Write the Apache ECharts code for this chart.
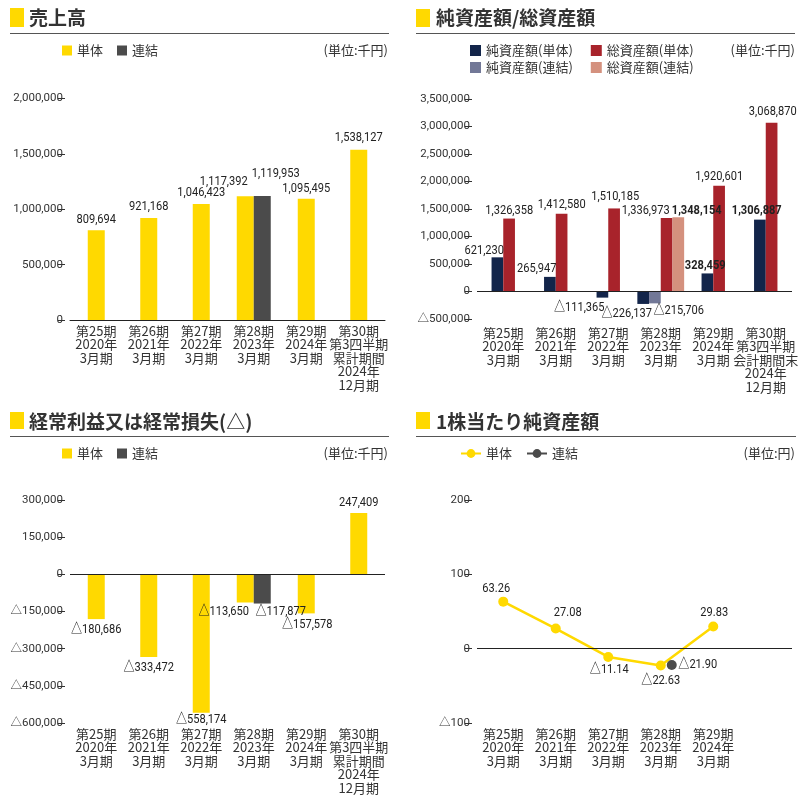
<!DOCTYPE html>
<html><head><meta charset="utf-8">
<script src="https://cdn.jsdelivr.net/npm/echarts@6/dist/echarts.min.js"></script>
<style>
html,body{margin:0;padding:0;background:#fff;}
.p{position:absolute;height:400px;}
</style>
</head><body>
<div id="c1" class="p" style="left:0;top:0;width:400px"></div>
<div id="c2" class="p" style="left:400px;top:0;width:407px"></div>
<div id="c3" class="p" style="left:0;top:400px;width:400px"></div>
<div id="c4" class="p" style="left:400px;top:400px;width:407px"></div>
<script>
// ---------- data ----------
const catsSales = ['第25期\n2020年\n3月期','第26期\n2021年\n3月期','第27期\n2022年\n3月期','第28期\n2023年\n3月期','第29期\n2024年\n3月期','第30期\n第3四半期\n累計期間\n2024年\n12月期'];
const catsAssets = ['第25期\n2020年\n3月期','第26期\n2021年\n3月期','第27期\n2022年\n3月期','第28期\n2023年\n3月期','第29期\n2024年\n3月期','第30期\n第3四半期\n会計期間末\n2024年\n12月期'];
const catsBps = ['第25期\n2020年\n3月期','第26期\n2021年\n3月期','第27期\n2022年\n3月期','第28期\n2023年\n3月期','第29期\n2024年\n3月期',''];

const salesSingle = [809694, 921168, 1046423, 1117392, 1095495, 1538127];
const salesConsol = [null, null, null, 1119953, null, null];

const netAssetsSingle = [621230, 265947, -111365, -226137, 328459, 1306887];
const totalAssetsSingle = [1326358, 1412580, 1510185, 1336973, 1920601, 3068870];
const netAssetsConsol = [null, null, null, -215706, null, null];
const totalAssetsConsol = [null, null, null, 1348154, null, null];

const ordinarySingle = [-180686, -333472, -558174, -113650, -157578, 247409];
const ordinaryConsol = [null, null, null, -117877, null, null];

const bpsSingle = [63.26, 27.08, -11.14, -22.63, 29.83];
const bpsConsol = [null, null, null, -21.90, null];

// ---------- value-label placement: [dx, dy] from (category centre, value) ----------
const offSalesS = [[0,-11],[0,-11],[0,-11],[-30,-15],[0,-10],[0,-12]];
const offSalesC = [null,null,null,[22,-22],null,null];
const offNetS = [[-19,-7],[-19,-8],[-29,9.5],[-34,10],[-8,-8],[-9,-8.5]];
const offTotS = [[6,-7.5],[6,-9],[7,-12],[-15,-7],[6,-9],[7,-11]];
const offNetC = [null,null,null,[18,7],null,null];
const offTotC = [null,null,null,[36,-6.5],null,null];
const boldNetS = [false,false,false,false,true,true];
const boldTotC = [false,false,false,true,false,false];
const offOrdS = [[0,11],[0,11],[0,6.5],[-30,9.5],[1,11.5],[0,-10]];
const offOrdC = [null,null,null,[27,8.5],null,null];
const offBpsS = [[-7,-13.5],[12,-15.5],[1,13],[0,15.5],[1,-13.5]];
const offBpsC = [null,null,null,[37,0],null];

// ---------- styles ----------
const FONT_JP = '"Noto Sans CJK JP", sans-serif';
const FONT_NUM = 'Roboto, "Liberation Sans", "Noto Sans CJK JP", sans-serif';
const YELLOW = '#FFD900', DARK = '#4B4B4B', NAVY = '#13254A', RED = '#A8232B', GRAYBLUE = '#727897', SALMON = '#D4917E';
const TXT = '#333';

function fmtInt(v){ const s = Math.abs(v).toLocaleString('en-US'); return v < 0 ? '△' + s : s; }
function fmtDec(v){ const s = Math.abs(v).toFixed(2); return v < 0 ? '△' + s : s; }
function pick(vals, mask, want){ return vals.map((v, i) => (mask[i] === want && v !== null) ? v : '-'); }

// value labels drawn as condensed text through the axes' own coordinate system
function labelEntries(vals, offs, fmt, bolds){
  const out = [];
  vals.forEach((v, i) => { if (v !== null) out.push({i: i, v: v, text: fmt(v), off: offs[i], bold: bolds ? bolds[i] : false}); });
  return out;
}
function labelSeries(entries){
  return {type: 'custom', name: 'labels', silent: true, z: 10, xAxisIndex: 0, yAxisIndex: 0,
    encode: {x: 0, y: 1},
    data: entries.map(e => [e.i, e.v]),
    renderItem: function(params, api){
      const e = entries[params.dataIndex];
      const p = api.coord([api.value(0), api.value(1)]);
      return {type: 'text', x: p[0] + e.off[0], y: p[1] + e.off[1], scaleX: 0.82, scaleY: 1,
        style: {text: e.text, fill: '#222', font: (e.bold ? 'bold ' : '') + '13.5px ' + FONT_NUM, align: 'center', verticalAlign: 'middle'}};
    }};
}

function xAxisMain(cats, margin, showLine){
  return {type: 'category', data: cats, gridIndex: 0,
    axisLine: {show: showLine, onZero: false, lineStyle: {color: '#222', width: 1}},
    axisTick: {show: false},
    axisLabel: {interval: 0, color: TXT, fontSize: 13, lineHeight: 13.5, margin: margin, fontFamily: FONT_JP}};
}
function xAxisHidden(cats){ return {type: 'category', data: cats, gridIndex: 0, show: false}; }
function yAxisOf(min, max, interval, fmt){
  return {type: 'value', min: min, max: max, interval: interval, offset: 5,
    axisLine: {show: false}, splitLine: {show: false},
    axisTick: {show: true, length: 7, lineStyle: {color: TXT, width: 1}},
    axisLabel: {color: TXT, fontSize: 11.5, margin: 2, fontFamily: FONT_NUM, formatter: fmt}};
}
function header(title, unit, o){
  return [
    {type: 'rect', shape: {x: o.rx, y: o.ry, width: 14, height: o.rh}, style: {fill: YELLOW}},
    {type: 'text', x: o.tx, y: o.ty, style: {text: title, fill: TXT, font: 'bold 19px "Noto Sans CJK JP"', verticalAlign: 'middle', align: 'left'}},
    {type: 'line', shape: {x1: o.rx, y1: o.ly, x2: o.lx2, y2: o.ly}, style: {stroke: '#555', lineWidth: 1}},
    {type: 'text', x: o.ux, y: o.uy, style: {text: unit, fill: TXT, font: '13px "Noto Sans CJK JP"', verticalAlign: 'middle', align: 'right'}}
  ];
}
const zeroLine = {silent: true, symbol: 'none', label: {show: false}, lineStyle: {color: '#222', width: 1, type: 'solid'}, data: [{yAxis: 0}]};
const legendText = {fontSize: 13, color: TXT, fontFamily: FONT_JP};
function bar(name, axis, width, color, data, extra){
  return Object.assign({name: name, type: 'bar', xAxisIndex: axis, barWidth: width, barGap: '0%', itemStyle: {color: color}, label: {show: false}, data: data}, extra || {});
}

// ---------- panel 1: 売上高 ----------
(function(){
  const mask = salesConsol.map(v => v !== null);
  const c = echarts.init(document.getElementById('c1'));
  c.setOption({
    animation: false,
    grid: {left: 70, right: 15, top: 98.5, bottom: 80},
    legend: {left: 62, top: 44, padding: 0, itemWidth: 10, itemHeight: 10, itemGap: 14, icon: 'rect', textStyle: legendText, data: ['単体', '連結']},
    xAxis: [xAxisMain(catsSales, 4, true), xAxisHidden(catsSales)],
    yAxis: yAxisOf(0, 2000000, 500000, fmtInt),
    series: [
      bar('単体', 0, 17, YELLOW, pick(salesSingle, mask, false)),
      bar('単体', 1, 17, YELLOW, pick(salesSingle, mask, true)),
      bar('連結', 1, 17, DARK, pick(salesConsol, mask, true)),
      labelSeries(labelEntries(salesSingle, offSalesS, fmtInt).concat(labelEntries(salesConsol, offSalesC, fmtInt)))
    ],
    graphic: header('売上高', '(単位:千円)', {rx: 10, ry: 8, rh: 19, tx: 29, ty: 18, ly: 33.5, lx2: 389, ux: 388, uy: 50})
  });
})();

// ---------- panel 2: 純資産額/総資産額 ----------
(function(){
  const mask = netAssetsConsol.map(v => v !== null);
  const c = echarts.init(document.getElementById('c2'));
  const lg = {left: 70, padding: 0, itemWidth: 11, itemHeight: 11, itemGap: 18, icon: 'rect', textStyle: legendText};
  c.setOption({
    animation: false,
    grid: {left: 77, right: 15, top: 99, bottom: 81},
    legend: [
      Object.assign({top: 44, data: ['純資産額(単体)', '総資産額(単体)']}, lg),
      Object.assign({top: 61, data: ['純資産額(連結)', '総資産額(連結)']}, lg)
    ],
    xAxis: [xAxisMain(catsAssets, 7, false), xAxisHidden(catsAssets)],
    yAxis: yAxisOf(-500000, 3500000, 500000, fmtInt),
    series: [
      bar('純資産額(単体)', 0, 11.7, NAVY, pick(netAssetsSingle, mask, false), {markLine: zeroLine}),
      bar('総資産額(単体)', 0, 11.7, RED, pick(totalAssetsSingle, mask, false)),
      bar('純資産額(単体)', 1, 11.7, NAVY, pick(netAssetsSingle, mask, true)),
      bar('純資産額(連結)', 1, 11.7, GRAYBLUE, pick(netAssetsConsol, mask, true)),
      bar('総資産額(単体)', 1, 11.7, RED, pick(totalAssetsSingle, mask, true)),
      bar('総資産額(連結)', 1, 11.7, SALMON, pick(totalAssetsConsol, mask, true)),
      labelSeries(labelEntries(netAssetsSingle, offNetS, fmtInt, boldNetS)
        .concat(labelEntries(totalAssetsSingle, offTotS, fmtInt))
        .concat(labelEntries(netAssetsConsol, offNetC, fmtInt))
        .concat(labelEntries(totalAssetsConsol, offTotC, fmtInt, boldTotC)))
    ],
    graphic: header('純資産額/総資産額', '(単位:千円)', {rx: 16, ry: 9, rh: 18, tx: 36, ty: 18, ly: 33.5, lx2: 395, ux: 395, uy: 50})
  });
})();

// ---------- panel 3: 経常利益又は経常損失(△) ----------
(function(){
  const mask = ordinaryConsol.map(v => v !== null);
  const c = echarts.init(document.getElementById('c3'));
  c.setOption({
    animation: false,
    grid: {left: 70, right: 15, top: 100, bottom: 77},
    legend: {left: 62, top: 47, padding: 0, itemWidth: 10, itemHeight: 10, itemGap: 14, icon: 'rect', textStyle: legendText, data: ['単体', '連結']},
    xAxis: [xAxisMain(catsSales, 4, false), xAxisHidden(catsSales)],
    yAxis: yAxisOf(-600000, 300000, 150000, fmtInt),
    series: [
      bar('単体', 0, 17, YELLOW, pick(ordinarySingle, mask, false), {markLine: zeroLine}),
      bar('単体', 1, 17, YELLOW, pick(ordinarySingle, mask, true)),
      bar('連結', 1, 17, DARK, pick(ordinaryConsol, mask, true)),
      labelSeries(labelEntries(ordinarySingle, offOrdS, fmtInt).concat(labelEntries(ordinaryConsol, offOrdC, fmtInt)))
    ],
    graphic: header('経常利益又は経常損失(△)', '(単位:千円)', {rx: 10, ry: 12, rh: 17, tx: 29, ty: 21.5, ly: 36.5, lx2: 389, ux: 388, uy: 53})
  });
})();

// ---------- panel 4: 1株当たり純資産額 ----------
(function(){
  const c = echarts.init(document.getElementById('c4'));
  c.setOption({
    animation: false,
    grid: {left: 77, right: 15, top: 100, bottom: 77},
    legend: {left: 60, top: 47, padding: 0, itemWidth: 20, itemHeight: 11, itemGap: 14, textStyle: legendText, data: ['単体', '連結']},
    xAxis: [xAxisMain(catsBps, 4, false)],
    yAxis: yAxisOf(-100, 200, 100, fmtInt),
    series: [
      {name: '単体', type: 'line', symbol: 'circle', symbolSize: 10, lineStyle: {color: YELLOW, width: 2.6}, itemStyle: {color: YELLOW},
       label: {show: false}, data: bpsSingle.slice(), markLine: zeroLine, z: 3},
      {name: '連結', type: 'line', symbol: 'circle', symbolSize: 10, symbolOffset: [11, 0], lineStyle: {color: DARK, width: 2.6}, itemStyle: {color: DARK},
       label: {show: false}, data: bpsConsol.map(v => v === null ? '-' : v), z: 4},
      labelSeries(labelEntries(bpsSingle, offBpsS, fmtDec).concat(labelEntries(bpsConsol, offBpsC, fmtDec)))
    ],
    graphic: header('1株当たり純資産額', '(単位:円)', {rx: 16, ry: 12, rh: 17, tx: 36, ty: 21.5, ly: 36.5, lx2: 396, ux: 395, uy: 53})
  });
})();
</script>
</body></html>
